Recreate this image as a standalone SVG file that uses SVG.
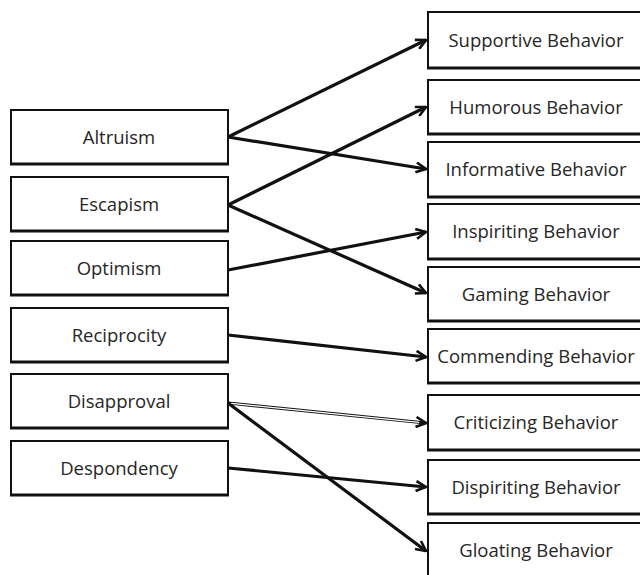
<svg xmlns="http://www.w3.org/2000/svg" width="640" height="575" viewBox="0 0 640 575">
<defs>
<style>
.box{fill:#fff;stroke:#111;stroke-width:2}
.btm{stroke:#111;stroke-width:3}
.lbl{font-family:"Open Sans","Noto Sans",sans-serif;font-size:18.5px;fill:#262626;text-anchor:middle}
.ln{stroke:#111;stroke-width:3.2;fill:none}
</style>
<marker id="ah" viewBox="0 0 12 12" refX="11" refY="6" markerWidth="12" markerHeight="12" markerUnits="userSpaceOnUse" orient="auto">
<path d="M1,1 L11,6 L1,11" fill="none" stroke="#111" stroke-width="2.6"/>
</marker>
</defs>
<rect width="640" height="575" fill="#fff"/>
<g id="connectors">
<line class="ln" x1="228" y1="137" x2="426" y2="40" marker-end="url(#ah)"/>
<line class="ln" x1="228" y1="137" x2="426" y2="169" marker-end="url(#ah)"/>
<line class="ln" x1="228" y1="205" x2="426" y2="107" marker-end="url(#ah)"/>
<line class="ln" x1="228" y1="205" x2="426" y2="293" marker-end="url(#ah)"/>
<line class="ln" x1="228" y1="270" x2="426" y2="232" marker-end="url(#ah)"/>
<line class="ln" x1="228" y1="335" x2="426" y2="357" marker-end="url(#ah)"/>
<line class="ln" x1="228" y1="403" x2="426" y2="423" stroke-width="4.5" marker-end="url(#ah)"/>
<line x1="231" y1="403.3" x2="419" y2="422.3" stroke="#fff" stroke-width="1.3"/>
<line class="ln" x1="228" y1="403" x2="426" y2="551" marker-end="url(#ah)"/>
<line class="ln" x1="228" y1="468" x2="426" y2="487" marker-end="url(#ah)"/>
</g>
<g id="altruism"><rect class="box" x="11" y="110" width="217" height="54"/><line class="btm" x1="10" y1="164" x2="229" y2="164"/><text class="lbl" x="119" y="144">Altruism</text></g>
<g id="escapism"><rect class="box" x="11" y="177" width="217" height="54"/><line class="btm" x1="10" y1="231" x2="229" y2="231"/><text class="lbl" x="119" y="211">Escapism</text></g>
<g id="optimism"><rect class="box" x="11" y="241" width="217" height="54"/><line class="btm" x1="10" y1="295" x2="229" y2="295"/><text class="lbl" x="119" y="275">Optimism</text></g>
<g id="reciprocity"><rect class="box" x="11" y="308" width="217" height="54"/><line class="btm" x1="10" y1="362" x2="229" y2="362"/><text class="lbl" x="119" y="342">Reciprocity</text></g>
<g id="disapproval"><rect class="box" x="11" y="374" width="217" height="54"/><line class="btm" x1="10" y1="428" x2="229" y2="428"/><text class="lbl" x="119" y="408">Disapproval</text></g>
<g id="despondency"><rect class="box" x="11" y="441" width="217" height="54"/><line class="btm" x1="10" y1="495" x2="229" y2="495"/><text class="lbl" x="119" y="475">Despondency</text></g>
<g id="supportive"><rect class="box" x="428" y="12" width="230" height="56"/><line class="btm" x1="427" y1="68" x2="640" y2="68"/><text class="lbl" x="536" y="47">Supportive Behavior</text></g>
<g id="humorous"><rect class="box" x="428" y="80" width="230" height="54"/><line class="btm" x1="427" y1="134" x2="640" y2="134"/><text class="lbl" x="536" y="114">Humorous Behavior</text></g>
<g id="informative"><rect class="box" x="428" y="142" width="230" height="55"/><line class="btm" x1="427" y1="197" x2="640" y2="197"/><text class="lbl" x="536" y="176">Informative Behavior</text></g>
<g id="inspiriting"><rect class="box" x="428" y="204" width="230" height="55"/><line class="btm" x1="427" y1="259" x2="640" y2="259"/><text class="lbl" x="536" y="238">Inspiriting Behavior</text></g>
<g id="gaming"><rect class="box" x="428" y="267" width="230" height="54"/><line class="btm" x1="427" y1="321" x2="640" y2="321"/><text class="lbl" x="536" y="301">Gaming Behavior</text></g>
<g id="commending"><rect class="box" x="428" y="329" width="230" height="54"/><line class="btm" x1="427" y1="383" x2="640" y2="383"/><text class="lbl" x="536" y="363">Commending Behavior</text></g>
<g id="criticizing"><rect class="box" x="428" y="395" width="230" height="55"/><line class="btm" x1="427" y1="450" x2="640" y2="450"/><text class="lbl" x="536" y="429">Criticizing Behavior</text></g>
<g id="dispiriting"><rect class="box" x="428" y="460" width="230" height="54"/><line class="btm" x1="427" y1="514" x2="640" y2="514"/><text class="lbl" x="536" y="494">Dispiriting Behavior</text></g>
<g id="gloating"><rect class="box" x="428" y="523" width="230" height="60"/><text class="lbl" x="536" y="557">Gloating Behavior</text></g>
</svg>
